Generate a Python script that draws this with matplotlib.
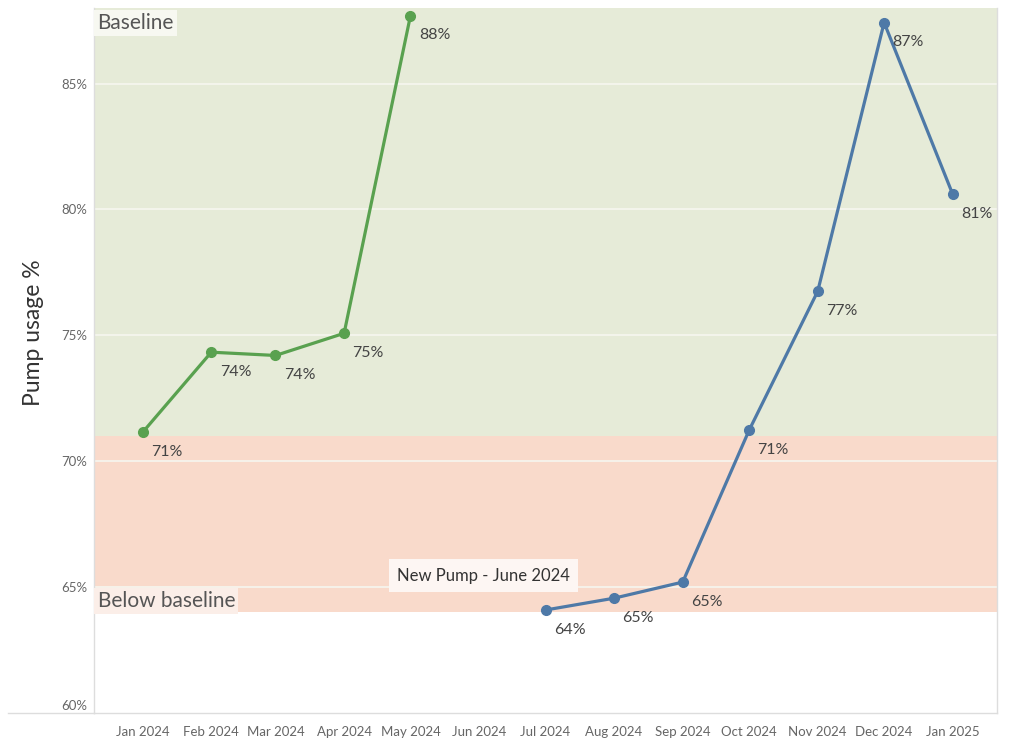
import matplotlib
matplotlib.use("Agg")
import matplotlib.pyplot as plt
import matplotlib.dates as mdates
import matplotlib.transforms as mtransforms
from matplotlib.lines import Line2D
import pandas as pd

# data
old_months = ["2024-01-01", "2024-02-01", "2024-03-01", "2024-04-01", "2024-05-01"]
old_usage = [71.15, 74.33, 74.2, 75.08, 87.7]
new_months = ["2024-07-01", "2024-08-01", "2024-09-01", "2024-10-01",
              "2024-11-01", "2024-12-01", "2025-01-01"]
new_usage = [64.09, 64.56, 65.2, 71.23, 76.75, 87.42, 80.6]
tick_months = pd.date_range("2024-01-01", "2025-01-01", freq="MS")
y_ticks = [60, 65, 70, 75, 80, 85]
baseline = 71.0
below_floor = 64.0

GREEN = "#59a14f"
BLUE = "#4e79a7"
TXT = "#555555"
FONT = ["Lato", "DejaVu Sans"]
plt.rcParams["font.family"] = FONT

fig = plt.figure(figsize=(10.24, 7.48), dpi=100)
ax = fig.add_axes([94 / 1024, 1 - 713 / 748, (997 - 94) / 1024, (713 - 8) / 748])

x_old = pd.to_datetime(old_months)
x_new = pd.to_datetime(new_months)

ax.set_xlim(pd.Timestamp("2023-12-10"), pd.Timestamp("2025-01-21"))
ax.set_ylim(60, 88)

# bands
ax.axhspan(baseline, 88, color="#e6ebd8", zorder=0, lw=0)
ax.axhspan(below_floor, baseline, color="#f9dacb", zorder=0, lw=0)
for yv in y_ticks[1:]:
    ax.axhline(yv, color="#f6f6f0", lw=1.2, zorder=1)

ax.plot(x_old, old_usage, color=GREEN, lw=2.3, marker="o", ms=7, zorder=3)
ax.plot(x_new, new_usage, color=BLUE, lw=2.3, marker="o", ms=7, zorder=3)

for xs, ys in [(x_old, old_usage), (x_new, new_usage)]:
    for xv, yv in zip(xs, ys):
        ax.annotate(f"{yv:.0f}%", (xv, yv), xytext=(6, -9), textcoords="offset points",
                    ha="left", va="top", fontsize=11.5, color="#444444", zorder=4)

ax.text(0.004, 0.993, "Baseline", transform=ax.transAxes, ha="left", va="top",
        fontsize=15, color=TXT,
        bbox=dict(boxstyle="square,pad=0.15", fc="#f7f8f1", ec="none"))
ax.text(0.004, (below_floor + 0.05 - 60) / 28, "Below baseline", transform=ax.transAxes,
        ha="left", va="bottom", fontsize=15, color=TXT,
        bbox=dict(boxstyle="square,pad=0.15", fc="#fbeee8", ec="none"))
ax.text(pd.Timestamp("2024-06-03"), 65.45, "New Pump - June 2024", ha="center", va="center",
        fontsize=12, color="#333333",
        bbox=dict(boxstyle="square,pad=0.5", fc="#fdf6f3", ec="none"), zorder=4)

ax.set_xticks(tick_months)
ax.xaxis.set_major_formatter(mdates.DateFormatter("%b %Y"))
ax.set_yticks(y_ticks)
ax.set_yticklabels([f"{v}%" for v in y_ticks])
ax.tick_params(axis="both", length=0, labelsize=9.5, labelcolor="#666666")
ax.tick_params(axis="x", pad=9)
ax.tick_params(axis="y", pad=5)
# bottom tick label sits above the axis line, as in the original
lab60 = ax.get_yticklabels()[0]
lab60.set_transform(lab60.get_transform() + mtransforms.ScaledTranslation(0, 8 / 100, fig.dpi_scale_trans))

ax.set_ylabel("Pump usage %", fontsize=16.5, color="#333333")
ax.yaxis.set_label_coords(-0.055, 0.54)

for s in ["top"]:
    ax.spines[s].set_visible(False)
for s in ["left", "right", "bottom"]:
    ax.spines[s].set_color("#dddddd")
    ax.spines[s].set_linewidth(1)
ax.add_line(Line2D([-0.095, 0], [0, 0], transform=ax.transAxes, color="#dddddd",
                   lw=1, clip_on=False))

fig.savefig("out.png", dpi=100)
